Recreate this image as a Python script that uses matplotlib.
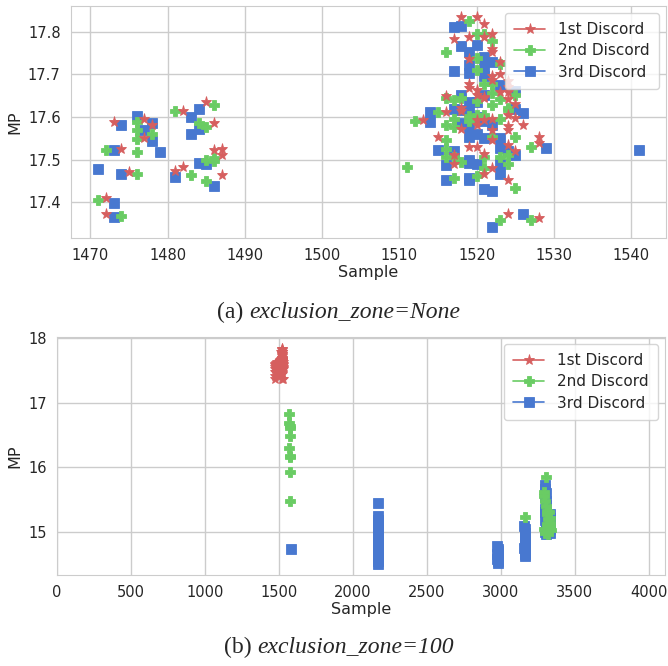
import matplotlib
matplotlib.use("Agg")
import matplotlib.pyplot as plt
import seaborn as sns
from matplotlib.lines import Line2D

sns.set_style("whitegrid")
plt.rcParams['font.family'] = ['DejaVu Sans']

# ---------------- data: panel (a) exclusion_zone=None ----------------
d1_x = [1482, 1485, 1477, 1473, 1478, 1477, 1486, 1474, 1486, 1487, 1487, 1475, 1481, 1482, 1487, 1472, 1472,
        1518, 1520, 1521, 1517, 1519, 1521, 1522, 1522, 1522, 1519, 1523, 1522, 1523, 1522, 1524, 1519, 1524,
        1519, 1520, 1523, 1524, 1520, 1516, 1521, 1524, 1525, 1516, 1518, 1524, 1525, 1522, 1513, 1520, 1521,
        1526, 1520, 1524, 1518, 1524, 1522, 1515, 1528, 1522, 1528, 1524, 1519, 1520, 1525, 1521, 1517, 1517,
        1522, 1521, 1524, 1524, 1528, 1518, 1521]
d1_y = [17.614, 17.635, 17.595, 17.588, 17.581, 17.551, 17.585, 17.525, 17.522, 17.525, 17.510, 17.470, 17.474,
        17.482, 17.463, 17.410, 17.373,
        17.834, 17.835, 17.818, 17.783, 17.787, 17.787, 17.795, 17.760, 17.752, 17.736, 17.729, 17.697, 17.701,
        17.686, 17.683, 17.678, 17.670, 17.668, 17.662, 17.658, 17.658, 17.652, 17.649, 17.647, 17.643, 17.631,
        17.612, 17.613, 17.604, 17.598, 17.596, 17.592, 17.592, 17.592, 17.582, 17.581, 17.579, 17.571, 17.569,
        17.569, 17.553, 17.552, 17.546, 17.538, 17.534, 17.530, 17.530, 17.520, 17.514, 17.510, 17.489, 17.481,
        17.466, 17.452, 17.373, 17.363, 17.622, 17.644]

d2_x = [1481, 1486, 1476, 1476, 1478, 1476, 1484, 1485, 1472, 1476, 1486, 1485, 1486, 1476, 1483, 1485, 1471, 1474,
        1519, 1520, 1521, 1522, 1516, 1520, 1523, 1520, 1521, 1522, 1522, 1525, 1516, 1518, 1523, 1517, 1520, 1522,
        1524, 1524, 1515, 1520, 1521, 1519, 1517, 1523, 1512, 1519, 1516, 1517, 1522, 1525, 1516, 1527, 1516, 1524,
        1523, 1521, 1516, 1517, 1518, 1524, 1511, 1521, 1520, 1517, 1525, 1523, 1527]
d2_y = [17.613, 17.628, 17.587, 17.569, 17.561, 17.549, 17.585, 17.577, 17.522, 17.518, 17.504, 17.500, 17.497,
        17.466, 17.464, 17.450, 17.405, 17.368,
        17.824, 17.795, 17.795, 17.779, 17.753, 17.738, 17.723, 17.709, 17.678, 17.678, 17.657, 17.651, 17.644,
        17.644, 17.643, 17.639, 17.637, 17.629, 17.622, 17.615, 17.612, 17.604, 17.604, 17.601, 17.596, 17.596,
        17.590, 17.590, 17.582, 17.576, 17.553, 17.553, 17.546, 17.529, 17.525, 17.511, 17.506, 17.507, 17.505,
        17.505, 17.495, 17.489, 17.482, 17.481, 17.461, 17.456, 17.433, 17.359, 17.359]

d3_x = [1484, 1483, 1476, 1474, 1478, 1477, 1478, 1484, 1483, 1473, 1479, 1484, 1485, 1471, 1474, 1481, 1486, 1473,
        1473,
        1518, 1517, 1520, 1518, 1519, 1521, 1522, 1519, 1521, 1517, 1519, 1521, 1523, 1525, 1518, 1521, 1519, 1520,
        1525, 1517, 1519, 1518, 1514, 1526, 1520, 1521, 1514, 1518, 1522, 1519, 1520, 1519, 1521, 1523, 1529, 1523,
        1515, 1524, 1517, 1525, 1519, 1519, 1520, 1523, 1516, 1523, 1516, 1519, 1519, 1521, 1522, 1526, 1522, 1541]
d3_y = [17.618, 17.599, 17.602, 17.581, 17.586, 17.569, 17.544, 17.571, 17.561, 17.522, 17.517, 17.492, 17.489,
        17.478, 17.466, 17.458, 17.439, 17.399, 17.366,
        17.814, 17.810, 17.769, 17.766, 17.752, 17.740, 17.728, 17.722, 17.717, 17.708, 17.702, 17.697, 17.674,
        17.660, 17.652, 17.652, 17.635, 17.635, 17.618, 17.618, 17.616, 17.616, 17.612, 17.608, 17.600, 17.590,
        17.589, 17.585, 17.580, 17.576, 17.561, 17.553, 17.550, 17.550, 17.528, 17.526, 17.523, 17.520, 17.519,
        17.511, 17.499, 17.493, 17.490, 17.490, 17.486, 17.466, 17.452, 17.452, 17.456, 17.430, 17.426, 17.373,
        17.341, 17.522]

# ---------------- data: panel (b) exclusion_zone=100 ----------------
b1_x = d1_x
b1_y = d1_y

b2_x = [1570, 1571, 1572, 1572, 1573, 1571, 1572, 1573, 1574, 1575,
        3164, 3306,
        3290, 3295, 3300, 3305, 3310, 3315, 3320, 3330, 3335, 3340, 3300, 3310, 3325, 3335, 3295, 3320]
b2_y = [16.82, 16.69, 16.64, 16.61, 16.49, 16.30, 16.18, 16.16, 15.92, 15.47,
        15.23, 15.85,
        15.62, 15.55, 15.48, 15.40, 15.33, 15.27, 15.20, 15.14, 15.08, 15.02, 14.98, 15.12, 15.30, 15.22, 15.05, 14.96]

b3_x = [1583,
        2170, 2168, 2170, 2172, 2169, 2171, 2170, 2168, 2172, 2170, 2169, 2171, 2170, 2168, 2172, 2170, 2171,
        2975, 2978, 2980, 2976, 2979, 2977, 2980, 2978,
        3160, 3162, 3164, 3161, 3163, 3162, 3160, 3164, 3162, 3163,
        3300, 3302, 3304, 3301, 3303, 3305, 3300, 3302, 3304, 3301, 3303, 3305, 3302, 3304,
        3330, 3333, 3335, 3332, 3334, 3331]
b3_y = [14.74,
        15.45, 15.24, 15.19, 15.14, 15.09, 15.04, 14.99, 14.94, 14.89, 14.84, 14.79, 14.74, 14.69, 14.64, 14.59,
        14.54, 14.50,
        14.78, 14.74, 14.70, 14.66, 14.62, 14.58, 14.55, 14.52,
        15.09, 15.04, 14.98, 14.92, 14.86, 14.80, 14.75, 14.70, 14.66, 14.62,
        15.72, 15.66, 15.60, 15.54, 15.48, 15.42, 15.36, 15.30, 15.24, 15.18, 15.12, 15.06, 15.00, 14.97,
        15.28, 15.22, 15.16, 15.10, 15.04, 14.98]

labels = ["1st Discord", "2nd Discord", "3rd Discord"]
colors = ["#d65f5f", "#6acc64", "#4878d0"]
markers = ["*", "P", "s"]
msizes = [8.0, 7.0, 6.5]

W, H = 668, 666
fig = plt.figure(figsize=(W / 100, H / 100), dpi=100)

ax1 = fig.add_axes([71 / W, 1 - 238 / H, (666 - 71) / W, (238 - 6) / H])
ax2 = fig.add_axes([57 / W, 1 - 575 / H, (665 - 57) / W, (575 - 337) / H])


def draw(ax, series):
    order = [2, 1, 0]
    for i in order:
        xs, ys = series[i]
        ax.plot(xs, ys, linestyle='none', marker=markers[i], color=colors[i],
                markersize=msizes[i], markeredgewidth=0.6, zorder=3)
    handles = [Line2D([0], [0], color=colors[i], marker=markers[i], markersize=msizes[i],
                      lw=1.2, markeredgewidth=0.6) for i in range(3)]
    leg = ax.legend(handles, labels, loc='upper right', fontsize=11, frameon=True,
                    handlelength=2.0, handletextpad=0.85, borderpad=0.62, labelspacing=0.4,
                    borderaxespad=0.45)
    leg.get_frame().set_edgecolor('#cccccc')
    ax.tick_params(labelsize=10.5, colors='#262626', pad=4)
    ax.set_xlabel("Sample", fontsize=11.5, labelpad=1, color='#262626')
    ax.set_ylabel("MP", fontsize=11.5, labelpad=4, color='#262626')
    for s in ax.spines.values():
        s.set_color('#cccccc')
    ax.grid(True, color='#cccccc', lw=1.0)


draw(ax1, [(d1_x, d1_y), (d2_x, d2_y), (d3_x, d3_y)])
ax1.set_xlim(1467.5, 1544.5)
ax1.set_ylim(17.316, 17.86)
ax1.set_xticks([1470, 1480, 1490, 1500, 1510, 1520, 1530, 1540])
ax1.set_yticks([17.4, 17.5, 17.6, 17.7, 17.8])

draw(ax2, [(b1_x, b1_y), (b2_x, b2_y), (b3_x, b3_y)])
ax2.set_xlim(0, 4110)
ax2.set_ylim(14.33, 18.02)
ax2.set_xticks([0, 500, 1000, 1500, 2000, 2500, 3000, 3500, 4000])
ax2.set_yticks([15, 16, 17, 18])

# captions: upright "(x) " followed by italic text, centred as a whole
renderer = fig.canvas.get_renderer()


def caption(prefix, body, cx, cy):
    t1 = fig.text(0, cy, prefix, fontsize=17, family='Liberation Serif', va='center', ha='left')
    t2 = fig.text(0, cy, body, fontsize=17, family='Liberation Serif', style='italic', va='center', ha='left')
    w1 = t1.get_window_extent(renderer).width / W
    w2 = t2.get_window_extent(renderer).width / W
    x0 = cx - (w1 + w2) / 2
    t1.set_x(x0)
    t2.set_x(x0 + w1)


caption("(a) ", "exclusion_zone=None", 339 / W, 1 - 312 / H)
caption("(b) ", "exclusion_zone=100", 339 / W, 1 - 647 / H)

fig.savefig("out.png", dpi=100)
